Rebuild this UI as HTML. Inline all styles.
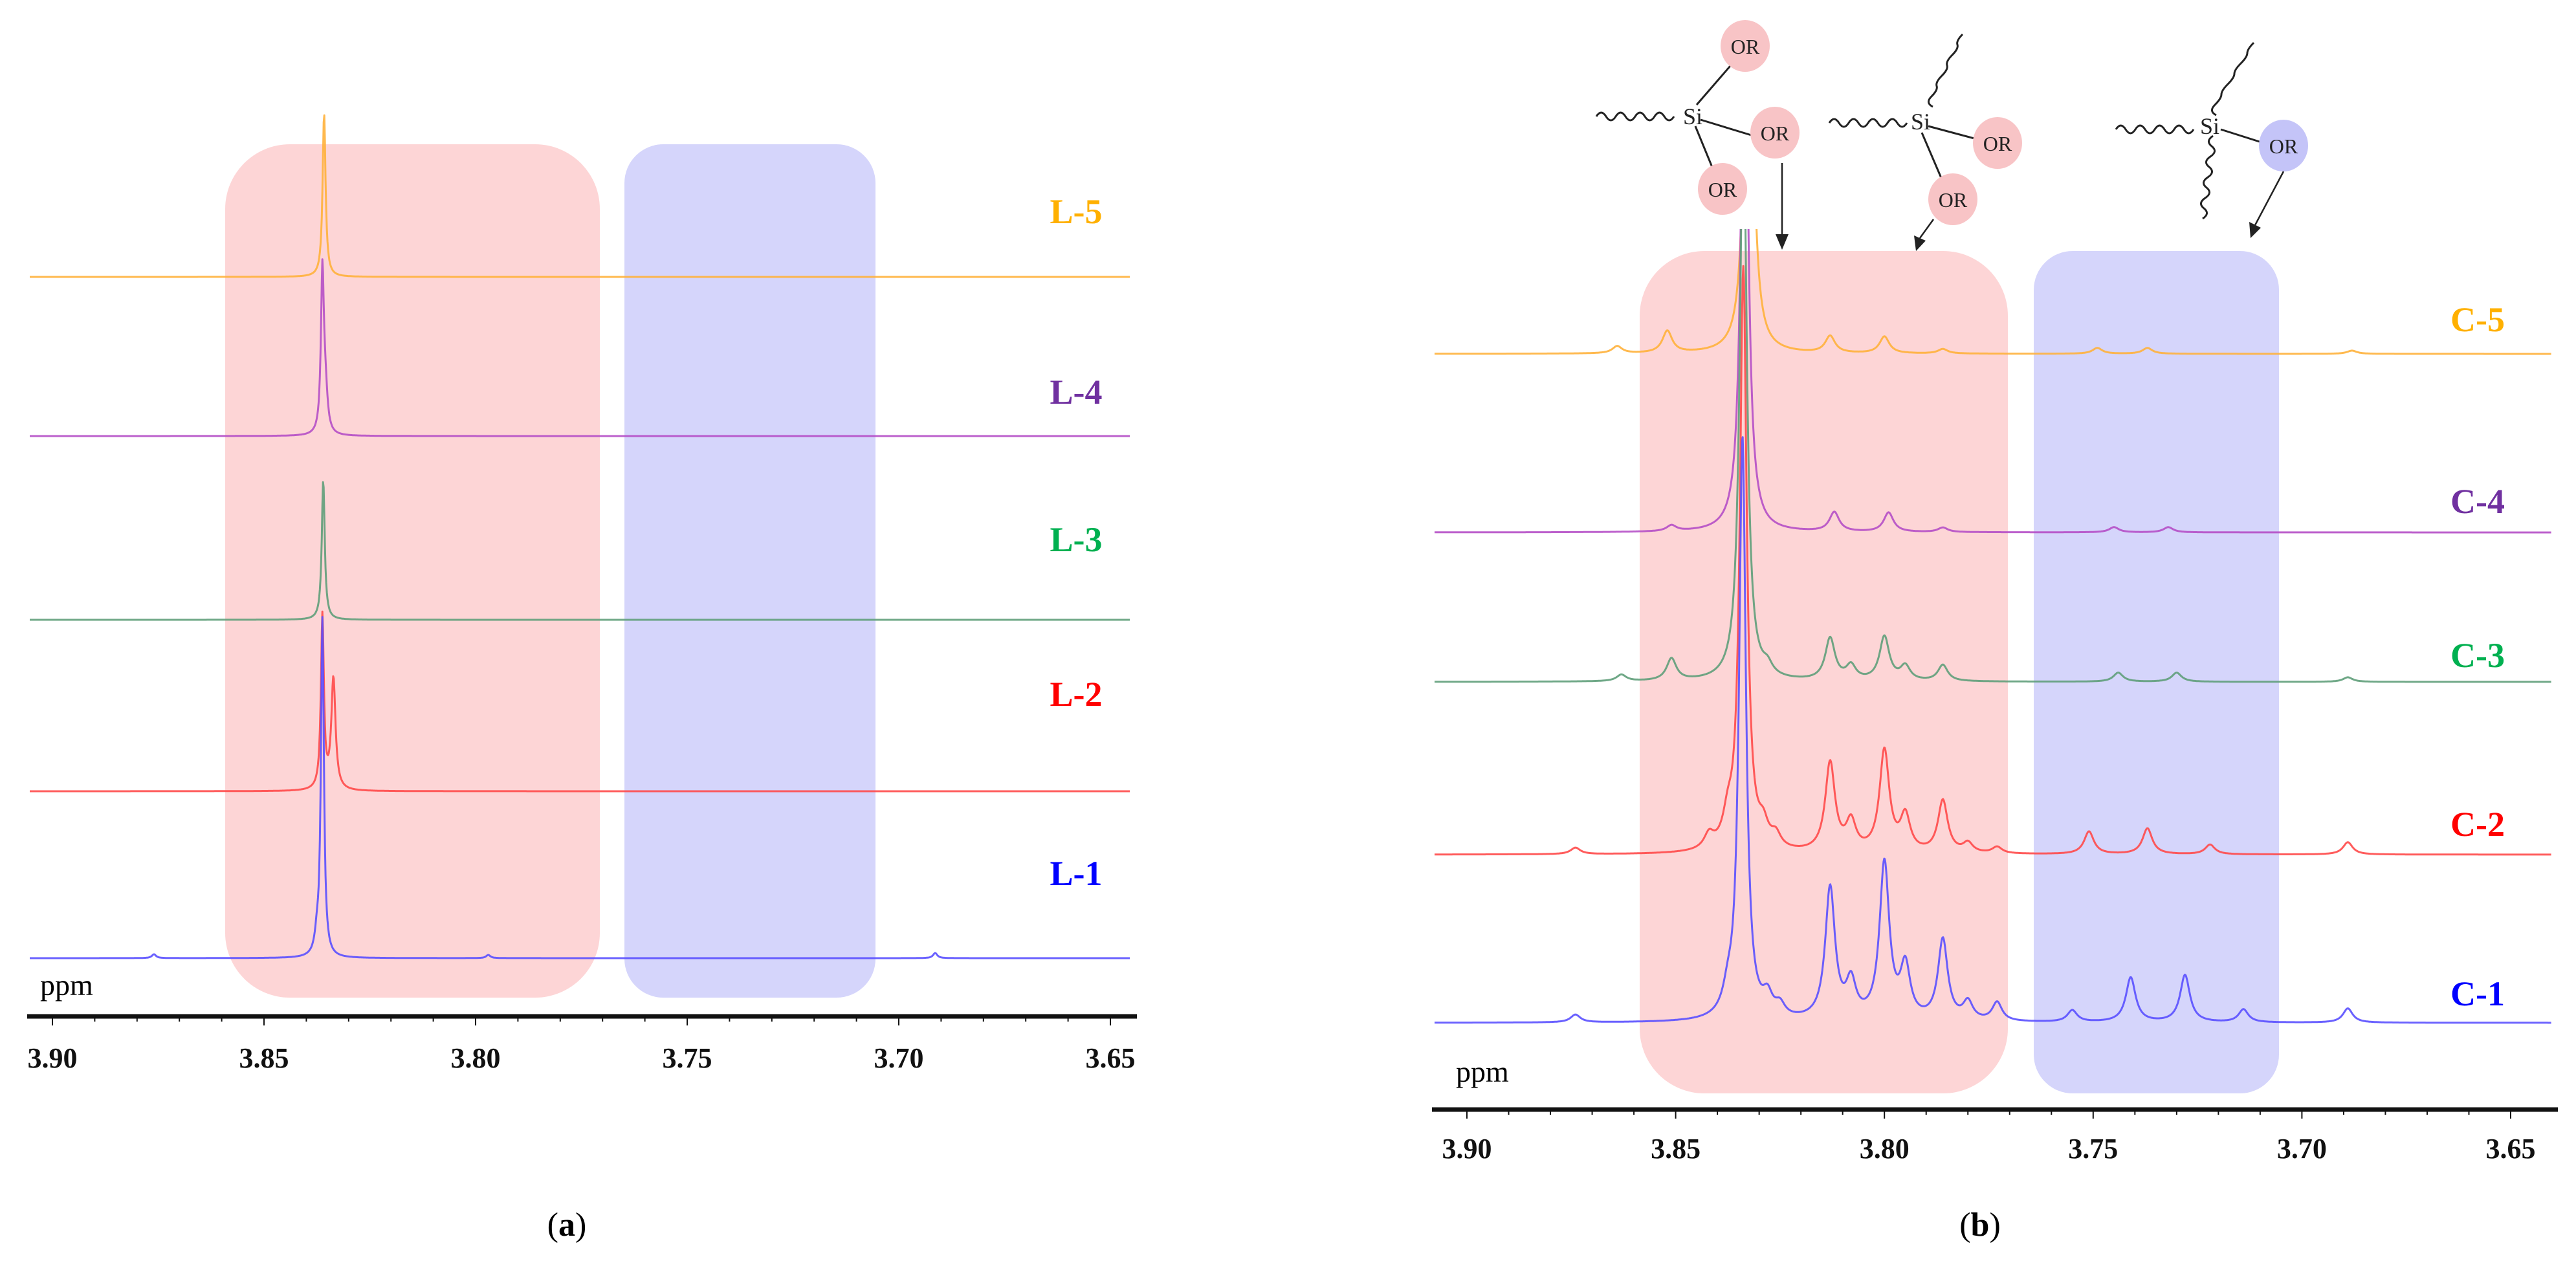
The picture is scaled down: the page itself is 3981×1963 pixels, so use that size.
<!DOCTYPE html>
<html><head><meta charset="utf-8">
<style>
html,body{margin:0;padding:0;background:#fff;}
svg{display:block;}
text{font-family:"Liberation Serif",serif;}
</style></head>
<body>
<svg id="fig" width="3981" height="1963" viewBox="0 0 3981 1963" xmlns="http://www.w3.org/2000/svg">
  <defs>
    <clipPath id="clipB"><rect x="2200" y="354" width="1760" height="1400"/></clipPath>
  </defs>
  <rect x="348" y="223" width="579" height="1319" rx="100" fill="#fdd5d6"/>
  <rect x="965" y="223" width="388" height="1319" rx="60" fill="#d5d5fb"/>
  <rect x="2534" y="388" width="569" height="1302" rx="100" fill="#fdd5d6"/>
  <rect x="3143" y="388" width="379" height="1302" rx="60" fill="#d5d5fb"/>

  <g id="tracesA"></g>
  <g id="tracesB" clip-path="url(#clipB)"></g>
  <g id="axisA"></g>
  <g id="axisB"></g>
  <g id="labels"></g>

  <text x="62" y="1538" font-size="46">ppm</text>
  <text x="2250" y="1672" font-size="46">ppm</text>

  <text x="876" y="1910" font-size="52" text-anchor="middle">(<tspan font-weight="bold">a</tspan>)</text>
  <text x="3060" y="1910" font-size="52" text-anchor="middle">(<tspan font-weight="bold">b</tspan>)</text>

  <g stroke="#222" stroke-width="3" fill="none">
    <path d="M2467 180 q7.5 -12 15 0 t15 0 t15 0 t15 0 t15 0 t15 0 t15 0 t15 0"/>
    <line x1="2622" y1="162" x2="2680" y2="95"/>
    <line x1="2628" y1="185" x2="2710" y2="210"/>
    <line x1="2620" y1="195" x2="2650" y2="268"/>
  </g>
  <ellipse cx="2697" cy="71" rx="38" ry="40" fill="#f8c4c6"/>
  <ellipse cx="2743" cy="205" rx="38" ry="40" fill="#f8c4c6"/>
  <ellipse cx="2662" cy="292" rx="38" ry="40" fill="#f8c4c6"/>
  <text x="2616" y="192" font-size="36" text-anchor="middle" fill="#222">Si</text>
  <text x="2697" y="83" font-size="32" text-anchor="middle" fill="#222">OR</text>
  <text x="2743" y="217" font-size="32" text-anchor="middle" fill="#222">OR</text>
  <text x="2662" y="304" font-size="32" text-anchor="middle" fill="#222">OR</text>

  <g stroke="#222" stroke-width="3" fill="none">
    <path d="M2827 190 q7.5 -12 15 0 t15 0 t15 0 t15 0 t15 0 t15 0 t15 0 t15 0"/>
    <path d="M2987 165 q-12 -6 -2 -16 t8 -16 t8 -16 t8 -16 t8 -16 t8 -16 t8 -16"/>
    <line x1="2980" y1="195" x2="3055" y2="215"/>
    <line x1="2970" y1="205" x2="3000" y2="275"/>
  </g>
  <ellipse cx="3087" cy="221" rx="38" ry="40" fill="#f8c4c6"/>
  <ellipse cx="3018" cy="308" rx="38" ry="40" fill="#f8c4c6"/>
  <text x="2968" y="200" font-size="36" text-anchor="middle" fill="#222">Si</text>
  <text x="3087" y="233" font-size="32" text-anchor="middle" fill="#222">OR</text>
  <text x="3018" y="320" font-size="32" text-anchor="middle" fill="#222">OR</text>

  <g stroke="#222" stroke-width="3" fill="none">
    <path d="M3270 200 q7.5 -12 15 0 t15 0 t15 0 t15 0 t15 0 t15 0 t15 0 t15 0"/>
    <path d="M3425 178 q-12 -6 -2 -16 t10 -16 t10 -16 t10 -16 t10 -16 t10 -16 t10 -16"/>
    <path d="M3420 210 q-12 8 -2 16 t-2 16 t-2 16 t-2 16 t-2 16 t-2 16 t-2 16 t-2 16"/>
    <line x1="3432" y1="200" x2="3495" y2="220"/>
  </g>
  <ellipse cx="3529" cy="225" rx="38" ry="40" fill="#c4c4f8"/>
  <text x="3415" y="207" font-size="36" text-anchor="middle" fill="#222">Si</text>
  <text x="3529" y="237" font-size="32" text-anchor="middle" fill="#222">OR</text>

  <g stroke="#222" stroke-width="2.5" fill="#222">
    <line x1="2754" y1="252" x2="2754" y2="366"/>
    <polygon points="2744,362 2764,362 2754,386" stroke="none"/>
    <line x1="2988" y1="339" x2="2967" y2="368"/>
    <polygon points="2958,364 2976,372 2961,388" stroke="none"/>
    <line x1="3529" y1="265" x2="3485" y2="348"/>
    <polygon points="3476,343 3494,352 3478,368" stroke="none"/>
  </g>
</svg>
<script>
const tickValues = [3.90, 3.85, 3.80, 3.75, 3.70, 3.65];
const tickLabels = ["3.90", "3.85", "3.80", "3.75", "3.70", "3.65"];

const seriesNamesA = ["L-5", "L-4", "L-3", "L-2", "L-1"];
const peaksPpmL5 = [3.8358];
const peaksHtL5 = [253];
const peaksPpmL4 = [3.8362, 3.8355];
const peaksHtL4 = [248, 60];
const peaksPpmL3 = [3.8360];
const peaksHtL3 = [216];
const peaksPpmL2 = [3.8362, 3.8336];
const peaksHtL2 = [269, 172];
const peaksPpmL1 = [3.8362, 3.8375, 3.876, 3.797, 3.6914];
const peaksHtL1 = [523, 25, 6, 5, 8];

const seriesNamesB = ["C-5", "C-4", "C-3", "C-2", "C-1"];
const peaksPpmC5 = [3.8325, 3.852, 3.864, 3.813, 3.800, 3.786, 3.749, 3.737, 3.688];
const peaksHtC5 = [900, 34, 11, 26, 26, 7, 9, 9, 5];
const peaksPpmC4 = [3.8335, 3.851, 3.812, 3.799, 3.786, 3.745, 3.732];
const peaksHtC4 = [900, 9, 30, 30, 7, 8, 8];
const peaksPpmC3 = [3.8338, 3.851, 3.863, 3.813, 3.808, 3.800, 3.795, 3.786, 3.744, 3.730, 3.689, 3.828];
const peaksHtC3 = [900, 34, 10, 65, 22, 68, 22, 25, 14, 14, 7, 15];
const peaksPpmC2 = [3.8338, 3.8375, 3.842, 3.829, 3.826, 3.813, 3.808, 3.800, 3.795, 3.786, 3.780, 3.773, 3.751, 3.737, 3.722, 3.689, 3.874];
const peaksHtC2 = [900, 40, 22, 30, 20, 138, 45, 157, 55, 81, 15, 10, 35, 40, 15, 19, 10];
const peaksPpmC1 = [3.8340, 3.8375, 3.828, 3.825, 3.813, 3.808, 3.800, 3.795, 3.786, 3.780, 3.773, 3.755, 3.741, 3.728, 3.714, 3.689, 3.874];
const peaksHtC1 = [900, 30, 30, 18, 204, 55, 242, 80, 125, 28, 29, 18, 69, 73, 20, 22, 12];

const colorsTrace = ["#ffb13b", "#b54fc6", "#5f9e7a", "#ff4a4a", "#5a50ff"];
const colorsLabel = ["#ffb000", "#7030a0", "#00b050", "#ff0000", "#0000ff"];

const NS = "http://www.w3.org/2000/svg";
function mk(tag, attrs, parent){ const e=document.createElementNS(NS,tag); for(const k in attrs) e.setAttribute(k,attrs[k]); parent.appendChild(e); return e; }

const panelA = { x0: 81, pxPer: 327/0.05, xL: 46, xR: 1747, axisY: 1571, labelY: 1650, baselines:[428,674,958,1223,1481], labelYs:[345,624,852,1091,1368], labelX:1663, w:0.0006 };
const panelB = { x0: 2267, pxPer: 322.6/0.05, xL: 2217, xR: 3943, axisY: 1715, labelY: 1790, baselines:[547,823,1054,1321,1581], labelYs:[512,793,1031,1292,1554], labelX:3829, w:0.0014 };
function xScale(p, ppm){ return p.x0 + (3.90 - ppm) * p.pxPer; }
function yScale(p, i, v){ return p.baselines[i] - v; }

function spectrum(p, i, ppms, hts, g, name){
  let d = "";
  const step = 0.00015;
  for(let ppm = 3.90 + (p.x0-p.xL)/p.pxPer; xScale(p,ppm) <= p.xR; ppm -= step){
    let v = 0;
    for(let k=0;k<ppms.length;k++){
      const w = (k===0) ? p.w*0.7 : p.w;
      const t = (ppm-ppms[k])/w;
      v += hts[k]/(1+t*t);
    }
    d += (d ? "L" : "M") + xScale(p,ppm).toFixed(1) + " " + yScale(p,i,v).toFixed(1);
  }
  const path = mk("path",{d:d, fill:"none", stroke:colorsTrace[i], "stroke-width":3, "stroke-linejoin":"round", opacity:0.9}, g);
  
  
}

const gA = document.getElementById("tracesA");
const dataA = [[peaksPpmL5,peaksHtL5],[peaksPpmL4,peaksHtL4],[peaksPpmL3,peaksHtL3],[peaksPpmL2,peaksHtL2],[peaksPpmL1,peaksHtL1]];
dataA.forEach((s,i)=>spectrum(panelA,i,s[0],s[1],gA,seriesNamesA[i]));
const gB = document.getElementById("tracesB");
const dataB = [[peaksPpmC5,peaksHtC5],[peaksPpmC4,peaksHtC4],[peaksPpmC3,peaksHtC3],[peaksPpmC2,peaksHtC2],[peaksPpmC1,peaksHtC1]];
dataB.forEach((s,i)=>spectrum(panelB,i,s[0],s[1],gB,seriesNamesB[i]));

function axis(p, g){
  const line = mk("line",{x1:p.xL-4, x2:p.xR+10, y1:p.axisY, y2:p.axisY, stroke:"#111", "stroke-width":7}, g);
  
  
  for(let m=0;m<=25;m++){
    const ppm = 3.90 - m*0.01;
    const x = xScale(p, ppm);
    if(x > p.xR) break;
    const tk = mk("line",{x1:x,x2:x,y1:p.axisY,y2:p.axisY+(m%5===0?14:8),stroke:"#111","stroke-width":2}, g);
    
    
  }
  tickValues.forEach((v,k)=>{
    const t = mk("text",{x:xScale(p,v), y:p.labelY, "font-size":44, "font-weight":"bold", "text-anchor":"middle", fill:"#111"}, g);
    t.textContent = tickLabels[k];
    
    
  });
}
axis(panelA, document.getElementById("axisA"));
axis(panelB, document.getElementById("axisB"));

const gL = document.getElementById("labels");
[[panelA,seriesNamesA],[panelB,seriesNamesB]].forEach(([p,names])=>{
  names.forEach((n,i)=>{
    const t = mk("text",{x:p.labelX, y:p.labelYs[i], "font-size":54, "font-weight":"bold", "text-anchor":"middle", fill:colorsLabel[i]}, gL);
    t.textContent = n;
    
    
  });
});
</script>
</body></html>
